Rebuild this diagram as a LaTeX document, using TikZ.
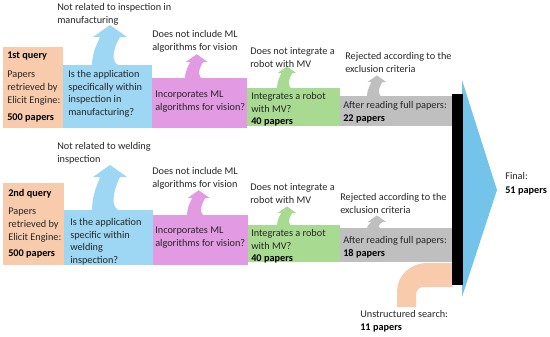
\documentclass[tikz,border=0pt]{standalone}
\usepackage{fontspec}
\setmainfont{Carlito}
\usepackage{xcolor}
\usepackage{tikz}

\definecolor{peach}{HTML}{F8CBAD}
\definecolor{skyblue}{HTML}{9DD7F3}
\definecolor{deepsky}{HTML}{74C3EA}
\definecolor{orchid}{HTML}{E29BE2}
\definecolor{leaf}{HTML}{A9DA92}
\definecolor{ash}{HTML}{BFBFBF}

% small arrow leaving a stage: colour, base x, box top, shaft width, height
\newcommand{\dropflow}[5]{%
  \fill[#1] ({#2},{#3+1}) .. controls ({#2},{#3-0.5*#5}) and ({#2+0.3*#4},{#3-0.8*#5}) .. ({#2+0.4*#4},{#3-#5})
    -- ({#2+0.05*#4},{#3-#5}) -- ({#2+0.9*#4},{#3-#5-0.6*#4}) -- ({#2+1.75*#4},{#3-#5}) -- ({#2+1.4*#4},{#3-#5})
    .. controls ({#2+1.0*#4},{#3-0.5*#5}) and ({#2+0.9*#4},{#3}) .. ({#2+1.5*#4},{#3+1}) -- cycle;}

\begin{document}
\begin{tikzpicture}[
  x=0.025cm, y=-0.025cm,
  every node/.style={font=\fontsize{7.3}{9}\selectfont, text=black!85, inner sep=0pt, anchor=north west, align=left},
  hdr/.style={font=\fontsize{7.3}{9}\selectfont\bfseries, text=black},
]
  \useasboundingbox (0,0) rectangle (550,336);

  % first query
  \fill[peach]   (3,47) rectangle (63,128);
  \fill[skyblue] (63,65) rectangle (152,128);
  \fill[orchid]  (152,78) rectangle (247,128);
  \fill[leaf]    (247,88) rectangle (340,126);
  \fill[ash]     (340,96) rectangle (452,126);
  \dropflow{skyblue}{92}{65}{20}{28}
  \dropflow{orchid}{185}{78}{13}{16}
  \dropflow{leaf}{277}{88}{11}{15}
  \dropflow{ash}{367}{96}{11}{14}

  % second query
  \fill[peach]   (3,183) rectangle (64,265);
  \fill[skyblue] (64,210) rectangle (153,265);
  \fill[orchid]  (153,215) rectangle (248,265);
  \fill[leaf]    (248,225) rectangle (340,262);
  \fill[ash]     (340,228) rectangle (452,262);
  \dropflow{skyblue}{92}{210}{20}{33}
  \dropflow{orchid}{187}{215}{13}{17}
  \dropflow{leaf}{277}{225}{11}{12}
  \dropflow{ash}{367}{228}{11}{6}

  % unstructured search
  \fill[peach] (453,263) -- (428,263) .. controls (410,263) and (397,275) .. (397,293) -- (397,307)
    -- (416,307) -- (416,295) .. controls (416,290) and (419,287) .. (424,287) -- (453,287) -- cycle;

  % merge
  \fill[deepsky] (462,80) -- (497,190) -- (462,297) -- cycle;
  \fill[black] (452,94) rectangle (463,285);

  \node[hdr] (q1head) at (7,52) {1st query};
  \node (q1body) at (7,71) {Papers\\retrieved by\\Elicit Engine:};
  \node[hdr] (q1num) at (7,113) {500 papers};
  \node (b1txt) at (68,70) {Is the application\\specifically within\\inspection in\\manufacturing?};
  \node (b1out) at (57,3) {Not related to inspection in\\manufacturing};
  \node (m1txt) at (155,91) {Incorporates ML\\algorithms for vision?};
  \node (m1out) at (152,30) {Does not include ML\\algorithms for vision};
  \node (g1txt) at (251,92) {Integrates a robot\\with MV?\\\textbf{\color{black}40 papers}};
  \node (g1out) at (250,47) {Does not integrate a\\robot with MV};
  \node (r1txt) at (343,101) {After reading full papers:\\\textbf{\color{black}22 papers}};
  \node (r1out) at (345,52) {Rejected according to the\\exclusion criteria};

  \node[hdr] (q2head) at (8,189) {2nd query};
  \node (q2body) at (8,208) {Papers\\retrieved by\\Elicit Engine:};
  \node[hdr] (q2num) at (8,249) {500 papers};
  \node (b2txt) at (70,218) {Is the application\\specific within\\welding\\inspection?};
  \node (b2out) at (57,142) {Not related to welding\\inspection};
  \node (m2txt) at (155,227) {Incorporates ML\\algorithms for vision?};
  \node (m2out) at (152,167) {Does not include ML\\algorithms for vision};
  \node (g2txt) at (251,229) {Integrates a robot\\with MV?\\\textbf{\color{black}40 papers}};
  \node (g2out) at (250,183) {Does not integrate a\\robot with MV};
  \node (r2txt) at (343,236) {After reading full papers:\\\textbf{\color{black}18 papers}};
  \node (r2out) at (340,193) {Rejected according to the\\exclusion criteria};

  \node (extra) at (360,310) {Unstructured search:\\\textbf{\color{black}11 papers}};
  \node (final) at (505,172) {Final:\\[1pt]\textbf{\color{black}51 papers}};
\end{tikzpicture}
\end{document}
